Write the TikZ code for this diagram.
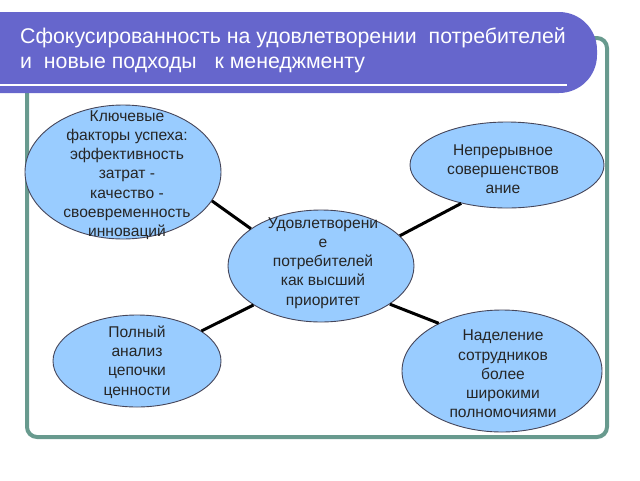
\documentclass[tikz,border=0pt]{standalone}
\usepackage{fontspec}
\setmainfont{Liberation Sans}
\usetikzlibrary{shapes.geometric}
\definecolor{banner}{RGB}{102,102,204}
\definecolor{frame}{RGB}{104,154,142}
\definecolor{bubble}{RGB}{153,204,255}
\definecolor{bubbleline}{RGB}{70,70,90}
\tikzset{
  bub/.style={ellipse, fill=bubble, draw=bubbleline, line width=0.9pt, inner sep=0pt},
  txt/.style={align=center, font=\fontsize{15.6}{19.2}\selectfont, inner sep=0pt, text=black!85},
  ttl/.style={anchor=base west, font=\fontsize{21.3}{25}\selectfont, text=white, inner sep=0pt},
  conn/.style={line width=3pt, black}
}
\begin{document}
\begin{tikzpicture}[x=1pt,y=-1pt]
\useasboundingbox (0,0) rectangle (640,480);
% frame
\draw[frame, line width=4pt, rounded corners=10pt] (27,38) rectangle (607,437);
% banner
\fill[banner, rounded corners=38pt] (-40,12) rectangle (597,93);
\fill[banner] (-10,12) rectangle (40,93);
\draw[white, line width=2.5pt] (0,85) -- (567,85);
\node[ttl] (title1) at (20,43) {Сфокусированность на удовлетворении\ \ потребителей};
\node[ttl] (title2) at (20,68) {и\ \ новые подходы\ \ \ к менеджменту};
% bubbles
\node[bub, minimum width=196pt, minimum height=134pt] (kf) at (123,172) {};
\node[bub, minimum width=194pt, minimum height=86pt] (np) at (507,165) {};
\node[bub, minimum width=186pt, minimum height=112pt] (ud) at (321,266) {};
\node[bub, minimum width=168pt, minimum height=92pt] (pa) at (137,361) {};
\node[bub, minimum width=200pt, minimum height=122pt] (nd) at (502,371) {};
% connectors
\draw[conn] (kf.-18) -- (ud.152);
\draw[conn] (ud.21) -- (np.220);
\draw[conn] (pa.25) -- (ud.210);
\draw[conn] (ud.-29) -- (nd.143);
% texts
\node[txt] (kft) at (127,175) {Ключевые\\факторы успеха:\\эффективность\\затрат -\\качество -\\своевременность\\инноваций};
\node[txt] (npt) at (503,169) {Непрерывное\\совершенствов\\ание};
\node[txt] (udt) at (323,263) {Удовлетворени\\е\\потребителей\\как высший\\приоритет};
\node[txt] (pat) at (137,362) {Полный\\анализ\\цепочки\\ценности};
\node[txt] (ndt) at (503,374) {Наделение\\сотрудников\\более\\широкими\\полномочиями};
\end{tikzpicture}
\end{document}
